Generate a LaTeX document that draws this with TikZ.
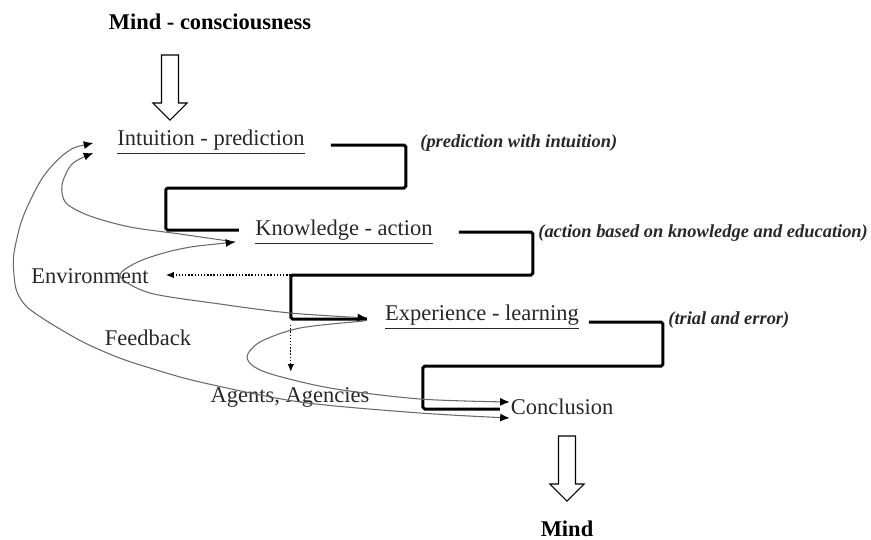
\documentclass[tikz,border=0pt]{standalone}
\usepackage{fontspec}
\setmainfont{Liberation Serif}
\usetikzlibrary{arrows.meta,calc}
\definecolor{loopgray}{RGB}{105,105,105}
\definecolor{textgray}{RGB}{40,40,40}

\tikzset{
    stage/.style={font=\fontsize{12.8}{15}\selectfont, text=textgray, inner sep=1pt},
    title/.style={font=\fontsize{12.8}{15}\selectfont\bfseries, inner sep=1pt},
    note/.style={font=\fontsize{10.5}{12}\selectfont\bfseries\itshape, text=textgray, anchor=west, inner sep=0pt},
    stair/.style={line width=1.7pt, rounded corners=1pt},
    loopline/.style={loopgray, line width=0.6pt},
    tipr/.style={-{Latex[length=1.9mm,width=1.6mm,color=black]}},
    tipb/.style={{Latex[length=1.9mm,width=1.6mm,color=black]}-{Latex[length=1.9mm,width=1.6mm,color=black]}},
    dots/.style={densely dotted, line width=0.8pt, -{Latex[length=1.6mm,width=1.3mm]}},
    hollow/.pic={
        \draw[line width=0.6pt, fill=white] (-8.5,0) -- (8.5,0) -- (8.5,48) -- (17,48)
            -- (0,65) -- (-17,48) -- (-8.5,48) -- cycle;
    }
}

\begin{document}
\begin{tikzpicture}[x=0.02cm, y=-0.02cm]
    \useasboundingbox[fill=white] (0,0) rectangle (871,539);

    % Top and bottom
    \node[title] (mindtop) at (210,22) {Mind - consciousness};
    \pic at (170,55) {hollow};
    \node[title, anchor=base] (mindbot) at (567,536) {Mind};
    \pic at (567,436) {hollow};

    % Stages
    \node[stage] (intu) at (211,142) {\underline{Intuition - prediction}};
    \node[stage] (know) at (344,232) {\underline{Knowledge - action}};
    \node[stage] (expe) at (482,317) {\underline{Experience - learning}};
    \node[stage] (concl) at (562,407) {Conclusion};

    % Side notes
    \node[note] (prednote) at (420,143) {(prediction with intuition)};
    \node[note] (actnote) at (538,233) {(action based on knowledge and education)};
    \node[note] (trialnote) at (668,320) {(trial and error)};

    % Other labels
    \node[stage] (env) at (90,276) {Environment};
    \node[stage] (feed) at (148,338) {Feedback};
    \node[stage] (agen) at (290,397) {Agents, Agencies};

    % Stairs between stages
    \draw[stair] (intu.east) ++(24,3) -- ++(75,0) -- ++(0,43) -- ++(-240,0)
        -- ++(0,42) -- ++(73,0);
    \draw[stair] (know.east) ++(24,0) -- ++(74,0) -- ++(0,43) -- ++(-242,0) coordinate (envcorner)
        -- ++(0,44) coordinate (agcorner) -- ++(76,0);
    \draw[stair] (expe.east) ++(8,5) -- ++(74,0) -- ++(0,44) -- ++(-240,0)
        -- ++(0,43) -- ++(77,0);

    % Dotted hints
    \draw[dots] (envcorner) -- ++(-125,0);
    \draw[dots] (agcorner) ++(0,6) -- ++(0,47);

    % End points of the loops
    \coordinate (intutop) at ($(intu.west)+(-22,1)$);
    \coordinate (intulow) at ($(intu.west)+(-22,11)$);
    \coordinate (knowin) at ($(know.west)+(-18,10)$);
    \coordinate (expein) at ($(expe.west)+(-16,1)$);
    \coordinate (expeout) at ($(expe.west)+(-19,4)$);
    \coordinate (conctop) at ($(concl.west)+(1,-5)$);
    \coordinate (conclow) at ($(concl.west)+(1,11)$);

    % Feedback loops
    \draw[loopline, tipr] plot[smooth] coordinates {(knowin) (180,234) (130,227) (90,216)
        (66,203) (62,185) (72,164) (intulow)};
    \draw[loopline, tipb] plot[smooth] coordinates {(knowin) (180,249) (140,261) (120,276)
        (150,293) (220,304) (290,313) (expein)};
    \draw[loopline, tipr] plot[smooth] coordinates {(expeout) (300,328) (260,342) (247,358)
        (265,372) (330,388) (420,399) (conctop)};
    \draw[loopline, tipb] plot[smooth] coordinates {(intutop) (67,152) (43,177) (23,217)
        (14,253) (14,275) (17,292) (27,307) (50,323) (83,342) (117,357) (150,368)
        (200,382) (300,402) (420,413) (conclow)};
\end{tikzpicture}
\end{document}
